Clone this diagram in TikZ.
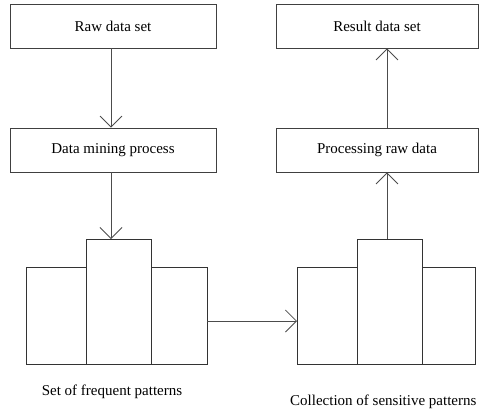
\documentclass[tikz,border=0pt]{standalone}
\usepackage{fontspec}
\setmainfont{Liberation Serif}
\usetikzlibrary{arrows.meta}
\begin{document}
\begin{tikzpicture}[x=1pt,y=-1pt,
  box/.style={draw=black!75, line width=0.8pt, minimum width=206pt, minimum height=44pt, inner sep=0pt, font=\fontsize{15}{18}\selectfont},
  bar/.style={draw=black!80, line width=0.8pt},
  conn/.style={draw=black!70, line width=0.8pt, -{Straight Barb[length=11pt,width=22pt,line width=0.8pt]}},
  lbl/.style={font=\fontsize{15}{18}\selectfont, inner sep=0pt}]
\useasboundingbox (0,0) rectangle (480,413);
\node[box] (raw) at (113,26) {Raw data set};
\node[box] (mine) at (113,150) {Data mining process};
\node[box, minimum width=202pt] (res) at (377,26) {Result data set};
\node[box, minimum width=202pt] (proc) at (377,150) {Processing raw data};
% left group
\draw[bar] (26,267) rectangle (86,364);
\draw[bar] (86,239) rectangle (151,364);
\draw[bar] (151,267) rectangle (207,364);
\coordinate (lc) at (111,239);
\coordinate (lr) at (207,321);
% right group
\draw[bar] (297,267) rectangle (357,364);
\draw[bar] (357,239) rectangle (422,364);
\draw[bar] (422,267) rectangle (475,364);
\coordinate (rc) at (387,239);
\coordinate (rl) at (297,321);
\draw[conn] (raw.south -| 111,0) -- (mine.north -| 111,0);
\draw[conn] (mine.south -| lc) -- (lc);
\draw[conn] (lr) -- (rl);
\draw[conn] (rc) -- (proc.south -| rc);
\draw[conn] (proc.north -| rc) -- (res.south -| rc);
\node[lbl] (l1) at (112,392) {Set of frequent patterns};
\node[lbl, anchor=west] (l2) at (290,402) {Collection of sensitive patterns};
\end{tikzpicture}
\end{document}
